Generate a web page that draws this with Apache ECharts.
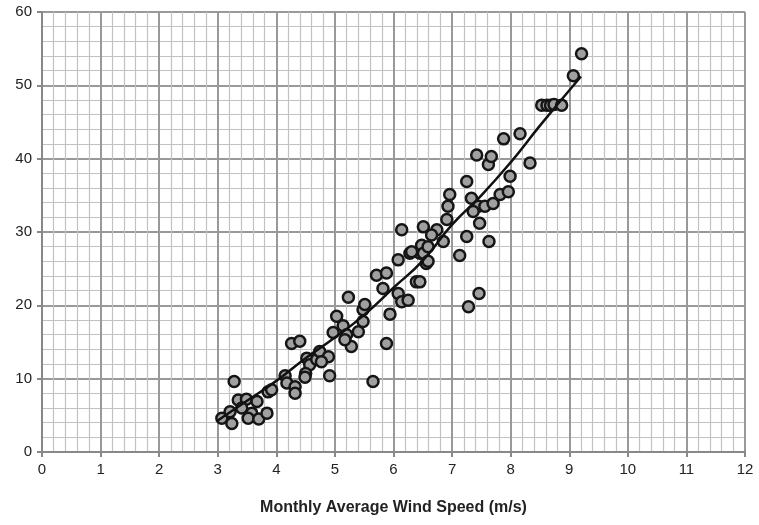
<!DOCTYPE html>
<html>
<head>
<meta charset="utf-8">
<script src="https://cdn.jsdelivr.net/npm/echarts@6/dist/echarts.min.js"></script>
<style>
  html, body { margin: 0; padding: 0; background: #fff; }
  #main { width: 759px; height: 525px; }
</style>
</head>
<body>
<div id="main"></div>
<script>
// monthly average wind speed (m/s) vs value
const pointsX = [
  3.07, 3.24, 3.28, 3.21, 3.35, 3.49, 3.41, 3.58, 3.52, 3.70, 3.84, 3.67, 3.86, 3.92,
  4.15, 4.18, 4.32, 4.32, 4.26, 4.40, 4.52, 4.57, 4.50, 4.49, 4.69, 4.74, 4.89, 4.77,
  4.91, 4.97, 5.03, 5.14, 5.20, 5.28, 5.23, 5.40, 5.48, 5.48, 5.51, 5.65, 5.88, 5.94,
  5.71, 5.88, 5.82, 6.08, 6.08, 6.14, 6.25, 6.39, 6.45, 6.28, 6.56, 6.45, 5.17,
  7.62, 7.25, 6.96, 6.93, 7.33, 7.45, 7.56, 7.36, 7.70, 7.82, 7.96, 7.99, 7.47, 7.25,
  7.63, 7.13, 6.91, 6.51, 6.74, 6.65, 6.85, 6.48, 6.31, 6.51, 6.59, 6.14, 7.46, 7.28,
  7.42, 7.67, 8.33, 9.21, 9.07, 8.53, 8.62, 8.68, 8.74, 8.87, 8.16, 7.88, 6.59
]
const pointsY = [
  4.6, 3.9, 9.6, 5.5, 7.1, 7.2, 6.0, 5.3, 4.6, 4.5, 5.3, 6.9, 8.2, 8.5,
  10.4, 9.4, 8.9, 8.0, 14.8, 15.1, 12.8, 11.9, 10.7, 10.2, 12.6, 13.7, 13.0, 12.3,
  10.4, 16.3, 18.5, 17.2, 16.0, 14.4, 21.1, 16.4, 17.8, 19.4, 20.1, 9.6, 14.8, 18.8,
  24.1, 24.4, 22.3, 26.2, 21.6, 20.5, 20.7, 23.2, 23.2, 27.1, 25.7, 27.1, 15.3,
  39.2, 36.9, 35.1, 33.5, 34.6, 33.5, 33.5, 32.8, 33.9, 35.1, 35.5, 37.6, 31.2, 29.4,
  28.7, 26.8, 31.7, 30.7, 30.3, 29.6, 28.7, 28.2, 27.3, 27.1, 26.0, 30.3, 21.6, 19.8,
  40.5, 40.3, 39.4, 54.3, 51.3, 47.3, 47.3, 47.3, 47.4, 47.3, 43.4, 42.7, 28.0
]

// fitted curve
const fitX = [3.0, 3.5, 4.0, 4.5, 5.0, 5.5, 6.0, 6.5, 7.0, 7.5, 8.0, 8.5, 9.2]
const fitY = [4.3, 7.0, 9.7, 12.8, 15.6, 18.7, 22.4, 26.1, 31.0, 35.0, 39.5, 44.5, 51.2]

const chart = echarts.init(document.getElementById('main'))

const fontFamily = "'Liberation Sans', Arial, sans-serif"

chart.setOption({
  animation: false,
  grid: { left: 42, right: 14, top: 12, bottom: 73 },
  xAxis: {
    type: 'value',
    min: 0,
    max: 12,
    interval: 1,
    name: 'Monthly Average Wind Speed (m/s)',
    nameLocation: 'middle',
    nameGap: 48,
    nameTextStyle: { fontFamily, fontSize: 16, fontWeight: 'bold', color: '#222' },
    axisLine: { show: true, lineStyle: { color: '#888', width: 2 } },
    axisTick: { show: true, length: 5, lineStyle: { color: '#888', width: 2 } },
    axisLabel: { fontFamily, fontSize: 15, color: '#222', margin: 10 },
    splitLine: { show: true, lineStyle: { color: '#999', width: 2 } },
    minorTick: { show: false, splitNumber: 5 },
    minorSplitLine: { show: true, lineStyle: { color: '#c2c2c2', width: 1.2 } }
  },
  yAxis: {
    type: 'value',
    min: 0,
    max: 60,
    interval: 10,
    axisLine: { show: true, lineStyle: { color: '#888', width: 2 } },
    axisTick: { show: true, length: 5, lineStyle: { color: '#888', width: 2 } },
    axisLabel: { fontFamily, fontSize: 15, color: '#222', margin: 10 },
    splitLine: { show: true, lineStyle: { color: '#999', width: 2 } },
    minorTick: { show: false, splitNumber: 5 },
    minorSplitLine: { show: true, lineStyle: { color: '#c2c2c2', width: 1.2 } }
  },
  series: [
    {
      type: 'scatter',
      data: pointsX.map((x, i) => [x, pointsY[i]]),
      symbol: 'circle',
      symbolSize: 11,
      itemStyle: { color: '#a0a0a0', borderColor: '#151515', borderWidth: 2.5, opacity: 1 },
      z: 2
    },
    {
      type: 'line',
      data: fitX.map((x, i) => [x, fitY[i]]),
      smooth: true,
      showSymbol: false,
      lineStyle: { color: '#111', width: 2.5 },
      z: 3
    }
  ]
})
</script>
</body>
</html>
